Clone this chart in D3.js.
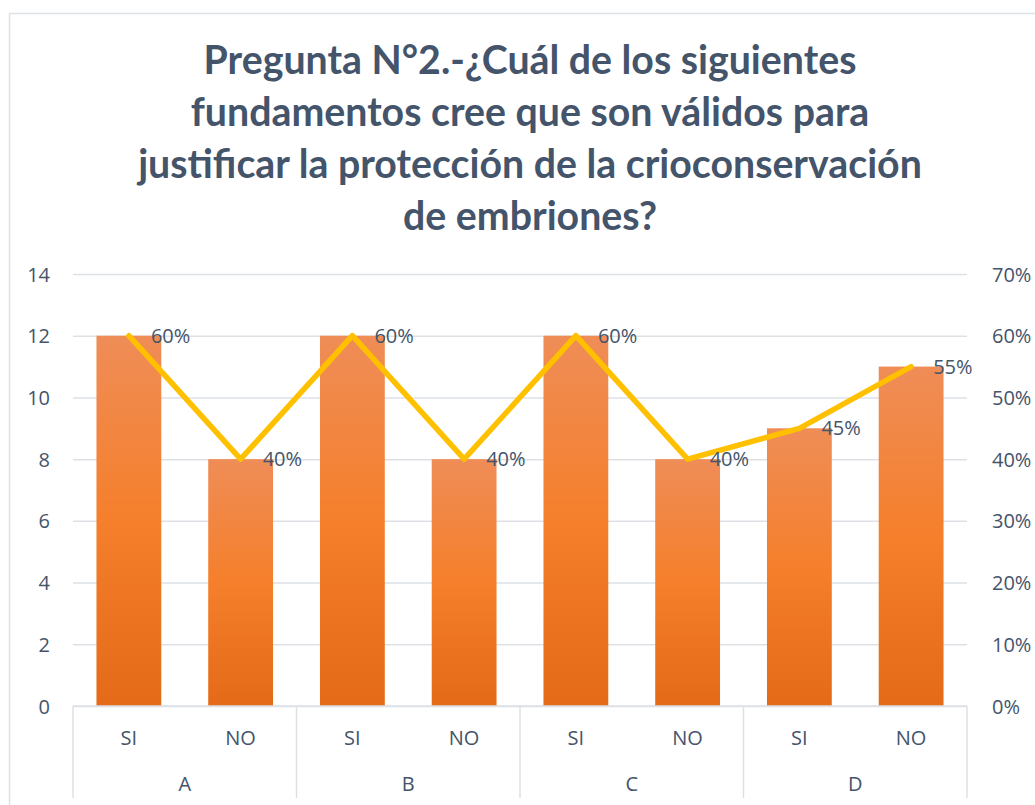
<!DOCTYPE html>
<html>
<head>
<meta charset="utf-8">
<script src="https://cdn.jsdelivr.net/npm/d3@7"></script>
<style>
  body { margin: 0; background: #fff; }
  svg { display: block; }
  .tick text { font-family: "Open Sans", sans-serif; font-size: 20px; fill: #44546A; }
</style>
</head>
<body>
<svg width="1035" height="805"></svg>
<script>
// chart data
const groups = ["A", "B", "C", "D"];
const answers = ["SI", "NO"];
const counts = [12, 8, 12, 8, 12, 8, 9, 11];
const percents = [0.60, 0.40, 0.60, 0.40, 0.60, 0.40, 0.45, 0.55];
const leftTicks = [0, 2, 4, 6, 8, 10, 12, 14];
const rightTicks = [0, 0.1, 0.2, 0.3, 0.4, 0.5, 0.6, 0.7];
const titleLines = [
    "Pregunta N°2.-¿Cuál de los siguientes",
    "fundamentos cree que son válidos para",
    "justificar la protección de la crioconservación",
    "de embriones?"
];

const items = [];
groups.forEach(g => answers.forEach(a => items.push({ group: g, answer: a, key: g + "-" + a })));
items.forEach((d, i) => { d.count = counts[i]; d.pct = percents[i]; });

const svg = d3.select("svg");
const textColor = "#44546A";
const gridColor = "#DDE1E6";

const margin = { left: 73, right: 967, top: 274, bottom: 706 };

const x = d3.scaleBand()
    .domain(items.map(d => d.key))
    .range([margin.left, margin.right])
    .paddingInner(0.42)
    .paddingOuter(0.21);

const y = d3.scaleLinear().domain([0, 14]).range([margin.bottom, margin.top]);
const yPct = d3.scaleLinear().domain([0, 0.7]).range([margin.bottom, margin.top]);

// chart frame (cropped at right/bottom like the reference)
svg.append("path")
    .attr("d", "M9.5,805 V13.5 H1035")
    .attr("fill", "none")
    .attr("stroke", gridColor)
    .attr("stroke-width", 1.5);

// gradient for bars
const defs = svg.append("defs");
const grad = defs.append("linearGradient")
    .attr("id", "barGrad")
    .attr("x1", 0).attr("y1", 0).attr("x2", 0).attr("y2", 1);
grad.append("stop").attr("offset", "0%").attr("stop-color", "#EF8D57");
grad.append("stop").attr("offset", "50%").attr("stop-color", "#F57F2B");
grad.append("stop").attr("offset", "100%").attr("stop-color", "#E46A17");

// gridlines + left axis
const leftAxis = svg.append("g")
    .attr("transform", `translate(${margin.left},0)`)
    .call(d3.axisLeft(y).tickValues(leftTicks).tickSize(-(margin.right - margin.left)).tickPadding(23));
leftAxis.select(".domain").remove();
leftAxis.selectAll(".tick line").attr("stroke", gridColor).attr("stroke-width", 1.5);
leftAxis.selectAll(".tick text").attr("dy", "0.35em");

// right axis
const rightAxis = svg.append("g")
    .attr("transform", `translate(${margin.right},0)`)
    .call(d3.axisRight(yPct).tickValues(rightTicks).tickSize(0).tickPadding(25).tickFormat(d3.format(".0%")));
rightAxis.select(".domain").remove();
rightAxis.selectAll(".tick text").attr("dy", "0.35em");

// bars
svg.append("g")
    .selectAll("rect")
    .data(items)
    .enter().append("rect")
    .attr("x", d => x(d.key))
    .attr("y", d => y(d.count))
    .attr("width", x.bandwidth())
    .attr("height", d => y(0) - y(d.count))
    .attr("fill", "url(#barGrad)");

// category axis line + group separators
const groupW = (margin.right - margin.left) / groups.length;
svg.append("line")
    .attr("x1", margin.left).attr("x2", margin.right)
    .attr("y1", margin.bottom).attr("y2", margin.bottom)
    .attr("stroke", gridColor).attr("stroke-width", 1.5);

svg.append("g")
    .selectAll("line")
    .data(d3.range(groups.length + 1))
    .enter().append("line")
    .attr("x1", i => margin.left + i * groupW)
    .attr("x2", i => margin.left + i * groupW)
    .attr("y1", margin.bottom)
    .attr("y2", 798)
    .attr("stroke", gridColor).attr("stroke-width", 1.5);

// item labels (SI / NO)
svg.append("g")
    .selectAll("text")
    .data(items)
    .enter().append("text")
    .attr("x", d => x(d.key) + x.bandwidth() / 2)
    .attr("y", 745)
    .attr("text-anchor", "middle")
    .attr("font-family", "Open Sans, sans-serif")
    .attr("font-size", 20)
    .attr("fill", textColor)
    .text(d => d.answer);

// group labels
svg.append("g")
    .selectAll("text")
    .data(groups)
    .enter().append("text")
    .attr("x", (d, i) => margin.left + (i + 0.5) * groupW)
    .attr("y", 791)
    .attr("text-anchor", "middle")
    .attr("font-family", "Open Sans, sans-serif")
    .attr("font-size", 20)
    .attr("fill", textColor)
    .text(d => d);

// percentage line
const line = d3.line()
    .x(d => x(d.key) + x.bandwidth() / 2)
    .y(d => yPct(d.pct));

svg.append("path")
    .datum(items)
    .attr("d", line)
    .attr("fill", "none")
    .attr("stroke", "#FFC000")
    .attr("stroke-width", 5.5)
    .attr("stroke-linejoin", "round")
    .attr("stroke-linecap", "round");

// data labels
svg.append("g")
    .selectAll("text")
    .data(items)
    .enter().append("text")
    .attr("x", d => x(d.key) + x.bandwidth() / 2 + 22)
    .attr("y", d => yPct(d.pct))
    .attr("dy", "0.35em")
    .attr("font-family", "Open Sans, sans-serif")
    .attr("font-size", 20)
    .attr("fill", textColor)
    .text(d => d3.format(".0%")(d.pct));

// title
const title = svg.append("g")
    .selectAll("text")
    .data(titleLines)
    .enter().append("text")
    .attr("x", 530)
    .attr("y", (d, i) => 74 + i * 52)
    .attr("text-anchor", "middle")
    .attr("font-family", "Lato, sans-serif")
    .attr("font-weight", 700)
    .attr("font-size", 34)
    .attr("fill", textColor)
    .text(d => d);

// fit first line to the reference width (~653px)
const w0 = title.nodes()[0].getComputedTextLength();
title.attr("font-size", 34 * 653 / w0);
</script>
</body>
</html>
